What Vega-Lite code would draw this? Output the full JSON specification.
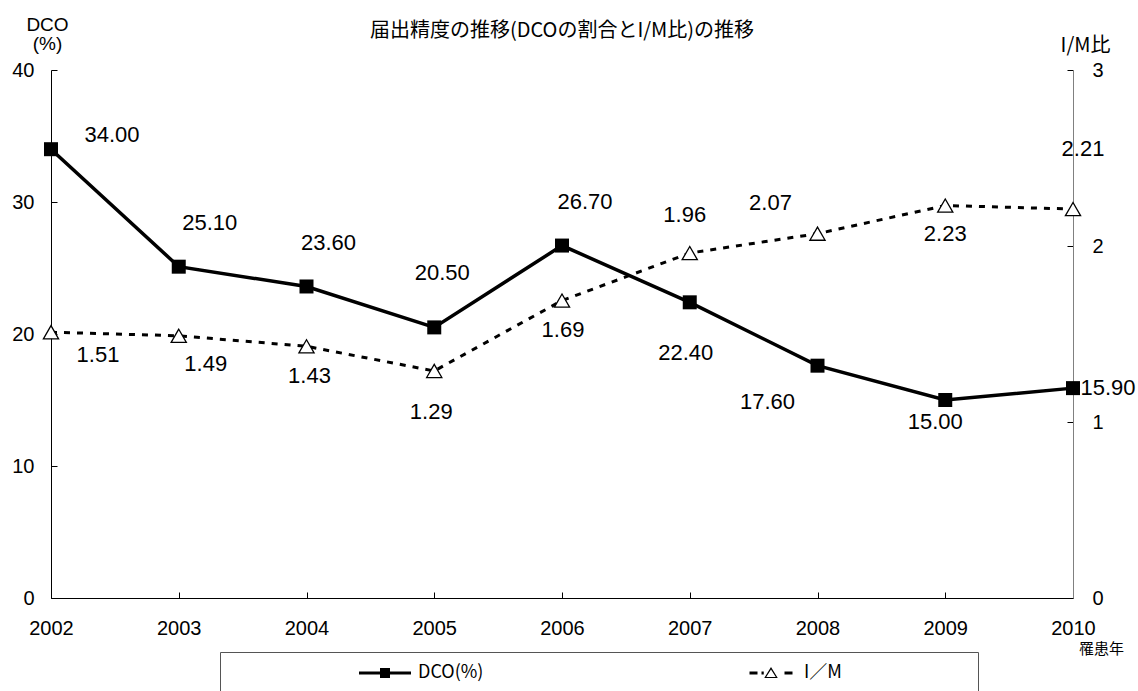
{
  "$schema": "https://vega.github.io/schema/vega-lite/v6.json",
  "width": 1022,
  "height": 528,
  "autosize": {"type": "none"},
  "padding": {"left": 51, "top": 70, "right": 65, "bottom": 93},
  "background": "white",
  "title": {"text": "届出精度の推移(DCOの割合とI/M比)の推移", "font": "Noto Sans CJK JP", "fontSize": 20, "fontWeight": "normal", "color": "black", "anchor": "middle", "baseline": "bottom", "offset": 0, "dy": 46},
  "data": {"values": [
    {"year": 2002, "dco": 34.0, "im": 1.51},
    {"year": 2003, "dco": 25.1, "im": 1.49},
    {"year": 2004, "dco": 23.6, "im": 1.43},
    {"year": 2005, "dco": 20.5, "im": 1.29},
    {"year": 2006, "dco": 26.7, "im": 1.69},
    {"year": 2007, "dco": 22.4, "im": 1.96},
    {"year": 2008, "dco": 17.6, "im": 2.07},
    {"year": 2009, "dco": 15.0, "im": 2.23},
    {"year": 2010, "dco": 15.9, "im": 2.21}
  ]},
  "encoding": {
    "x": {"field": "year", "type": "quantitative", "scale": {"domain": [2002, 2010], "nice": false, "zero": false},
      "axis": {"orient": "bottom", "values": [2002, 2003, 2004, 2005, 2006, 2007, 2008, 2009, 2010], "format": "d", "tickSize": -6, "labelPadding": 26, "labelFlush": false, "labelOverlap": false,
        "title": "罹患年", "titleX": 1050, "titleY": 50, "titleAlign": "center", "titleBaseline": "middle", "titleAngle": 0, "titleFont": "Noto Sans CJK JP", "titleFontSize": 15, "titleFontWeight": "normal"}}
  },
  "layer": [
    {
      "encoding": {
        "y": {"field": "dco", "type": "quantitative", "scale": {"domain": [0, 40], "nice": false},
          "axis": {"orient": "left", "values": [0, 10, 20, 30, 40], "tickSize": -6, "labelPadding": 23, "labelFlush": false,
            "title": ["DCO", "(%)"], "titleAngle": 0, "titleAlign": "center", "titleBaseline": "top", "titleX": -4, "titleY": -55, "titleFont": "Liberation Sans", "titleFontSize": 19, "titleFontWeight": "normal", "titleLineHeight": 19}}
      },
      "layer": [
        {"mark": {"type": "line", "color": "black", "strokeWidth": 3.5}},
        {"mark": {"type": "point", "shape": "square", "filled": true, "color": "black", "size": 196, "opacity": 1}},
        {"mark": {"type": "point", "filled": true, "color": "black", "size": 0, "opacity": 1},
          "encoding": {"shape": {"datum": "DCO(%)", "type": "nominal",
            "scale": {"domain": ["DCO(%)", "I／M"], "range": ["M-5.2,-0.3H5.2V0.3H-5.2ZM-1,-1H1V1H-1Z", "M-4.3,-0.3H-2.7V0.3H-4.3ZM-1.9,-0.3H-1.45V0.3H-1.9ZM2.7,-0.3H4.3V0.3H2.7ZM0,-1.2L1.35,1L-1.35,1ZM0,-0.72L-0.95,0.78L0.95,0.78Z"]},
            "legend": {"orient": "none", "legendX": 169, "legendY": 582, "direction": "horizontal",
              "title": " ", "titleOrient": "right", "titlePadding": 124, "titleFontSize": 8,
              "strokeColor": "#555", "padding": 12, "symbolSize": 100, "symbolOffset": 144, "labelOffset": 24, "columnPadding": 134,
              "symbolFillColor": "black", "symbolStrokeColor": "transparent", "symbolStrokeWidth": 0, "symbolOpacity": 1,
              "labelFont": "Noto Sans CJK JP", "labelFontSize": 18, "labelColor": "black"}}}},
        {"transform": [{"filter": "datum.year == 2002"}], "mark": {"type": "text", "dx": 61, "dy": -14}, "encoding": {"text": {"field": "dco", "format": ".2f"}}},
        {"transform": [{"filter": "datum.year == 2003"}], "mark": {"type": "text", "dx": 31, "dy": -44}, "encoding": {"text": {"field": "dco", "format": ".2f"}}},
        {"transform": [{"filter": "datum.year == 2004"}], "mark": {"type": "text", "dx": 22, "dy": -43}, "encoding": {"text": {"field": "dco", "format": ".2f"}}},
        {"transform": [{"filter": "datum.year == 2005"}], "mark": {"type": "text", "dx": 8, "dy": -54}, "encoding": {"text": {"field": "dco", "format": ".2f"}}},
        {"transform": [{"filter": "datum.year == 2006"}], "mark": {"type": "text", "dx": 23, "dy": -44}, "encoding": {"text": {"field": "dco", "format": ".2f"}}},
        {"transform": [{"filter": "datum.year == 2007"}], "mark": {"type": "text", "dx": -4, "dy": 51}, "encoding": {"text": {"field": "dco", "format": ".2f"}}},
        {"transform": [{"filter": "datum.year == 2008"}], "mark": {"type": "text", "dx": -50, "dy": 36}, "encoding": {"text": {"field": "dco", "format": ".2f"}}},
        {"transform": [{"filter": "datum.year == 2009"}], "mark": {"type": "text", "dx": -10, "dy": 22}, "encoding": {"text": {"field": "dco", "format": ".2f"}}},
        {"transform": [{"filter": "datum.year == 2010"}], "mark": {"type": "text", "dx": 35, "dy": 0}, "encoding": {"text": {"field": "dco", "format": ".2f"}}}
      ]
    },
    {
      "encoding": {
        "y": {"field": "im", "type": "quantitative", "scale": {"domain": [0, 3], "nice": false},
          "axis": {"orient": "right", "values": [0, 1, 2, 3], "tickSize": -6, "labelPadding": 25, "labelFlush": false, "domainColor": "#808080",
            "title": "I/M比", "titleAngle": 0, "titleAlign": "center", "titleBaseline": "middle", "titleX": 12, "titleY": -25, "titleFont": "Noto Sans CJK JP", "titleFontSize": 20, "titleFontWeight": "normal"}}
      },
      "layer": [
        {"mark": {"type": "line", "color": "black", "strokeWidth": 3, "strokeDash": [6, 7]}},
        {"mark": {"type": "point", "shape": "triangle-up", "fill": "white", "stroke": "black", "strokeWidth": 1.3, "size": 230, "opacity": 1}},
        {"transform": [{"filter": "datum.year == 2002"}], "mark": {"type": "text", "dx": 47, "dy": 23}, "encoding": {"text": {"field": "im", "format": ".2f"}}},
        {"transform": [{"filter": "datum.year == 2003"}], "mark": {"type": "text", "dx": 27, "dy": 28}, "encoding": {"text": {"field": "im", "format": ".2f"}}},
        {"transform": [{"filter": "datum.year == 2004"}], "mark": {"type": "text", "dx": 3, "dy": 30}, "encoding": {"text": {"field": "im", "format": ".2f"}}},
        {"transform": [{"filter": "datum.year == 2005"}], "mark": {"type": "text", "dx": -3, "dy": 41}, "encoding": {"text": {"field": "im", "format": ".2f"}}},
        {"transform": [{"filter": "datum.year == 2006"}], "mark": {"type": "text", "dx": 1, "dy": 29}, "encoding": {"text": {"field": "im", "format": ".2f"}}},
        {"transform": [{"filter": "datum.year == 2007"}], "mark": {"type": "text", "dx": -5, "dy": -38}, "encoding": {"text": {"field": "im", "format": ".2f"}}},
        {"transform": [{"filter": "datum.year == 2008"}], "mark": {"type": "text", "dx": -47, "dy": -31}, "encoding": {"text": {"field": "im", "format": ".2f"}}},
        {"transform": [{"filter": "datum.year == 2009"}], "mark": {"type": "text", "dx": 0, "dy": 28}, "encoding": {"text": {"field": "im", "format": ".2f"}}},
        {"transform": [{"filter": "datum.year == 2010"}], "mark": {"type": "text", "dx": 10, "dy": -60}, "encoding": {"text": {"field": "im", "format": ".2f"}}}
      ]
    }
  ],
  "resolve": {"scale": {"y": "independent"}},
  "config": {
    "view": {"stroke": null},
    "axis": {"grid": false, "domainColor": "black", "domainWidth": 1, "tickColor": "black", "labelColor": "black", "labelFont": "Liberation Sans", "labelFontSize": 20, "titleColor": "black"},
    "text": {"font": "Liberation Sans", "fontSize": 22, "color": "black", "align": "center", "baseline": "middle"}
  }
}
